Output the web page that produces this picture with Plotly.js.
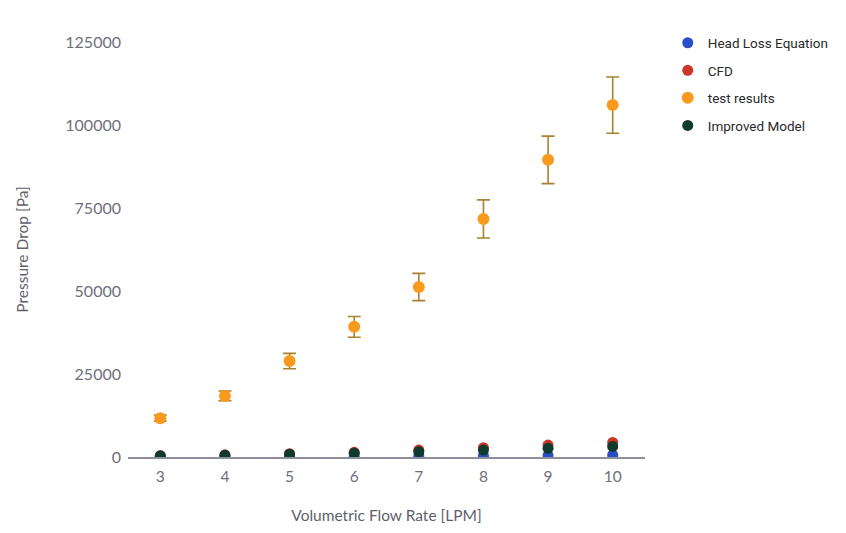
<!DOCTYPE html>
<html>
<head>
<meta charset="utf-8">
<script src="https://cdn.plot.ly/plotly-3.0.1.min.js"></script>
<style>
  html, body { margin: 0; padding: 0; background: #fff; }
  #chart { width: 846px; height: 533px; }
</style>
</head>
<body>
<div id="chart"></div>
<script>
const flowRate = [3, 4, 5, 6, 7, 8, 9, 10];
const headLoss = [50, 100, 150, 200, 300, 400, 500, 600];
const cfd = [400, 650, 1000, 1400, 2100, 2800, 3600, 4400];
const testResults = [11700, 18400, 28900, 39200, 51200, 71700, 89500, 106000];
const testError = [940, 1470, 2310, 3140, 4100, 5740, 7160, 8480];
const improvedModel = [350, 550, 850, 1150, 1600, 2100, 2600, 3200];
const xTicks = [3, 4, 5, 6, 7, 8, 9, 10];
const yTicks = [0, 25000, 50000, 75000, 100000, 125000];

const traces = [
  { name: 'Head Loss Equation', x: flowRate, y: headLoss, color: '#2a50c8', size: 11 },
  { name: 'CFD', x: flowRate, y: cfd, color: '#cc3527', size: 11 },
  { name: 'test results', x: flowRate, y: testResults, color: '#f99a1c', size: 12, err: testError },
  { name: 'Improved Model', x: flowRate, y: improvedModel, color: '#0f3a2e', size: 11 }
].map((t, i) => {
  const tr = {
    type: 'scatter', mode: 'markers', name: t.name, x: t.x, y: t.y,
    legendgroup: 'g' + i,
    marker: { color: t.color, size: t.size },
    cliponaxis: true
  };
  if (t.err) {
    tr.error_y = { type: 'data', array: t.err, visible: true, color: '#a8822e', thickness: 1.6, width: 6.5 };
  }
  return tr;
});

const layout = {
  width: 846, height: 533,
  margin: { l: 128, r: 201, t: 42, b: 76 },
  paper_bgcolor: '#fff', plot_bgcolor: '#fff',
  font: { family: 'Lato, Roboto, sans-serif', color: '#6f6f7c', size: 15 },
  showlegend: true,
  legend: {
    x: 1.044, xanchor: 'left', y: 1.035, yanchor: 'top',
    font: { family: 'Roboto, sans-serif', size: 13.5, color: '#2a2a2a' },
    traceorder: 'grouped', tracegroupgap: 7, bgcolor: 'rgba(0,0,0,0)', borderwidth: 0
  },
  xaxis: {
    range: [2.5, 10.5], tickvals: xTicks, ticktext: xTicks.map(String),
    showgrid: false, zeroline: false, showline: true, linecolor: '#8e8e9c', linewidth: 1.5,
    ticks: '', tickfont: { size: 15.5, color: '#6f6f7c' }, ticklabelstandoff: 5,
    title: { text: 'Volumetric Flow Rate [LPM]', font: { size: 15.5, color: '#5f5f6c' }, standoff: 26 }
  },
  yaxis: {
    range: [0, 125000], tickvals: yTicks, ticktext: yTicks.map(String),
    showgrid: false, zeroline: false, showline: false,
    ticks: '', tickfont: { size: 16, color: '#6f6f7c' }, ticklabelstandoff: 6,
    title: { text: 'Pressure Drop [Pa]', font: { size: 15.5, color: '#5f5f6c' }, standoff: 32 }
  }
};

Plotly.newPlot('chart', traces, layout, { displayModeBar: false, staticPlot: true });
</script>
</body>
</html>
